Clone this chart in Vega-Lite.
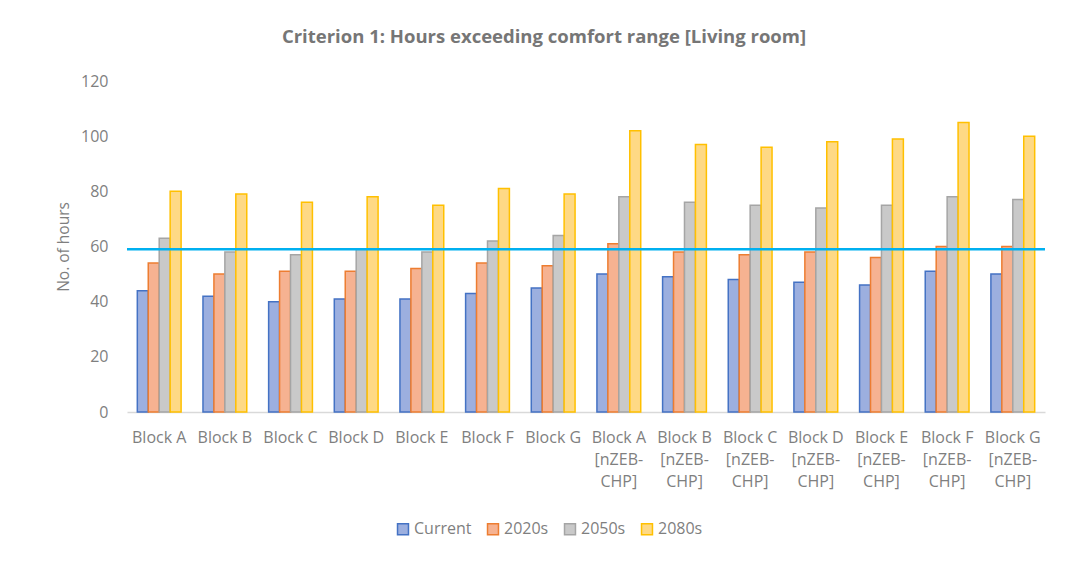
{
  "$schema": "https://vega.github.io/schema/vega-lite/v6.json",
  "width": 918,
  "height": 331,
  "autosize": {"type": "none"},
  "padding": {"left": 127, "top": 81, "right": 35, "bottom": 157},
  "background": "white",
  "config": {"view": {"stroke": null}, "font": "Open Sans"},
  "title": {
    "text": "Criterion 1: Hours exceeding comfort range [Living room]",
    "fontSize": 18.5,
    "font": "Open Sans",
    "fontWeight": "bold",
    "color": "#767676",
    "anchor": "middle",
    "dx": -42,
    "offset": 27
  },
  "data": {
    "values": [
      {"block": "Block A", "series": "Current", "hours": 44},
      {"block": "Block A", "series": "2020s", "hours": 54},
      {"block": "Block A", "series": "2050s", "hours": 63},
      {"block": "Block A", "series": "2080s", "hours": 80},
      {"block": "Block B", "series": "Current", "hours": 42},
      {"block": "Block B", "series": "2020s", "hours": 50},
      {"block": "Block B", "series": "2050s", "hours": 58},
      {"block": "Block B", "series": "2080s", "hours": 79},
      {"block": "Block C", "series": "Current", "hours": 40},
      {"block": "Block C", "series": "2020s", "hours": 51},
      {"block": "Block C", "series": "2050s", "hours": 57},
      {"block": "Block C", "series": "2080s", "hours": 76},
      {"block": "Block D", "series": "Current", "hours": 41},
      {"block": "Block D", "series": "2020s", "hours": 51},
      {"block": "Block D", "series": "2050s", "hours": 59},
      {"block": "Block D", "series": "2080s", "hours": 78},
      {"block": "Block E", "series": "Current", "hours": 41},
      {"block": "Block E", "series": "2020s", "hours": 52},
      {"block": "Block E", "series": "2050s", "hours": 58},
      {"block": "Block E", "series": "2080s", "hours": 75},
      {"block": "Block F", "series": "Current", "hours": 43},
      {"block": "Block F", "series": "2020s", "hours": 54},
      {"block": "Block F", "series": "2050s", "hours": 62},
      {"block": "Block F", "series": "2080s", "hours": 81},
      {"block": "Block G", "series": "Current", "hours": 45},
      {"block": "Block G", "series": "2020s", "hours": 53},
      {"block": "Block G", "series": "2050s", "hours": 64},
      {"block": "Block G", "series": "2080s", "hours": 79},
      {"block": "Block A [nZEB-CHP]", "series": "Current", "hours": 50},
      {"block": "Block A [nZEB-CHP]", "series": "2020s", "hours": 61},
      {"block": "Block A [nZEB-CHP]", "series": "2050s", "hours": 78},
      {"block": "Block A [nZEB-CHP]", "series": "2080s", "hours": 102},
      {"block": "Block B [nZEB-CHP]", "series": "Current", "hours": 49},
      {"block": "Block B [nZEB-CHP]", "series": "2020s", "hours": 58},
      {"block": "Block B [nZEB-CHP]", "series": "2050s", "hours": 76},
      {"block": "Block B [nZEB-CHP]", "series": "2080s", "hours": 97},
      {"block": "Block C [nZEB-CHP]", "series": "Current", "hours": 48},
      {"block": "Block C [nZEB-CHP]", "series": "2020s", "hours": 57},
      {"block": "Block C [nZEB-CHP]", "series": "2050s", "hours": 75},
      {"block": "Block C [nZEB-CHP]", "series": "2080s", "hours": 96},
      {"block": "Block D [nZEB-CHP]", "series": "Current", "hours": 47},
      {"block": "Block D [nZEB-CHP]", "series": "2020s", "hours": 58},
      {"block": "Block D [nZEB-CHP]", "series": "2050s", "hours": 74},
      {"block": "Block D [nZEB-CHP]", "series": "2080s", "hours": 98},
      {"block": "Block E [nZEB-CHP]", "series": "Current", "hours": 46},
      {"block": "Block E [nZEB-CHP]", "series": "2020s", "hours": 56},
      {"block": "Block E [nZEB-CHP]", "series": "2050s", "hours": 75},
      {"block": "Block E [nZEB-CHP]", "series": "2080s", "hours": 99},
      {"block": "Block F [nZEB-CHP]", "series": "Current", "hours": 51},
      {"block": "Block F [nZEB-CHP]", "series": "2020s", "hours": 60},
      {"block": "Block F [nZEB-CHP]", "series": "2050s", "hours": 78},
      {"block": "Block F [nZEB-CHP]", "series": "2080s", "hours": 105},
      {"block": "Block G [nZEB-CHP]", "series": "Current", "hours": 50},
      {"block": "Block G [nZEB-CHP]", "series": "2020s", "hours": 60},
      {"block": "Block G [nZEB-CHP]", "series": "2050s", "hours": 77},
      {"block": "Block G [nZEB-CHP]", "series": "2080s", "hours": 100}
    ]
  },
  "layer": [
    {
      "mark": {"type": "bar", "strokeWidth": 1.5},
      "encoding": {
        "x": {
          "field": "block",
          "type": "nominal",
          "sort": null,
          "scale": {"paddingInner": 0.333, "paddingOuter": 0.157},
          "axis": {
            "title": null,
            "labelAngle": 0,
            "labelFontSize": 16,
            "labelColor": "#7f7f7f",
            "labelFont": "Open Sans",
            "ticks": false,
            "domainColor": "#d9d9d9",
            "domainWidth": 1.5,
            "labelPadding": 25,
            "labelBaseline": "middle",
            "labelLineHeight": 22,
            "labelExpr": "length(datum.label) > 8 ? [slice(datum.label, 0, 7), '[nZEB-', 'CHP]'] : datum.label"
          }
        },
        "xOffset": {"field": "series", "sort": ["Current", "2020s", "2050s", "2080s"], "scale": {"paddingInner": 0, "paddingOuter": 0}},
        "y": {
          "field": "hours",
          "type": "quantitative",
          "scale": {"domain": [0, 120]},
          "axis": {
            "title": "No. of hours",
            "titleFontSize": 15.5,
            "titleFontWeight": "normal",
            "titleColor": "#7f7f7f",
            "titleFont": "Open Sans",
            "titlePadding": 9,
            "values": [0, 20, 40, 60, 80, 100, 120],
            "labelFontSize": 16,
            "labelColor": "#7f7f7f",
            "labelFont": "Open Sans",
            "labelPadding": 19,
            "ticks": false,
            "domain": false,
            "grid": false
          }
        },
        "fill": {
          "field": "series",
          "type": "nominal",
          "scale": {"domain": ["Current", "2020s", "2050s", "2080s"], "range": ["#9cafdf", "#f6b291", "#c9c9c9", "#fed985"]},
          "legend": {"title": null, "orient": "none", "legendX": 268, "legendY": 440, "direction": "horizontal", "symbolType": "square", "symbolSize": 120, "symbolStrokeWidth": 1.5, "labelFontSize": 16, "labelColor": "#7f7f7f", "labelFont": "Open Sans", "columnPadding": 12, "labelOffset": 3}
        },
        "stroke": {
          "field": "series",
          "type": "nominal",
          "scale": {"domain": ["Current", "2020s", "2050s", "2080s"], "range": ["#4472c4", "#ed7d31", "#a5a5a5", "#ffc000"]},
          "legend": {"title": null, "orient": "none", "legendX": 268, "legendY": 440, "direction": "horizontal", "symbolType": "square", "symbolSize": 120, "symbolStrokeWidth": 1.5, "labelFontSize": 16, "labelColor": "#7f7f7f", "labelFont": "Open Sans", "columnPadding": 12, "labelOffset": 3}
        }
      }
    },
    {
      "data": {"values": [{"threshold": 59}]},
      "mark": {"type": "rule", "color": "#00b0f0", "strokeWidth": 2.5},
      "encoding": {"y": {"field": "threshold", "type": "quantitative"}}
    }
  ]
}
